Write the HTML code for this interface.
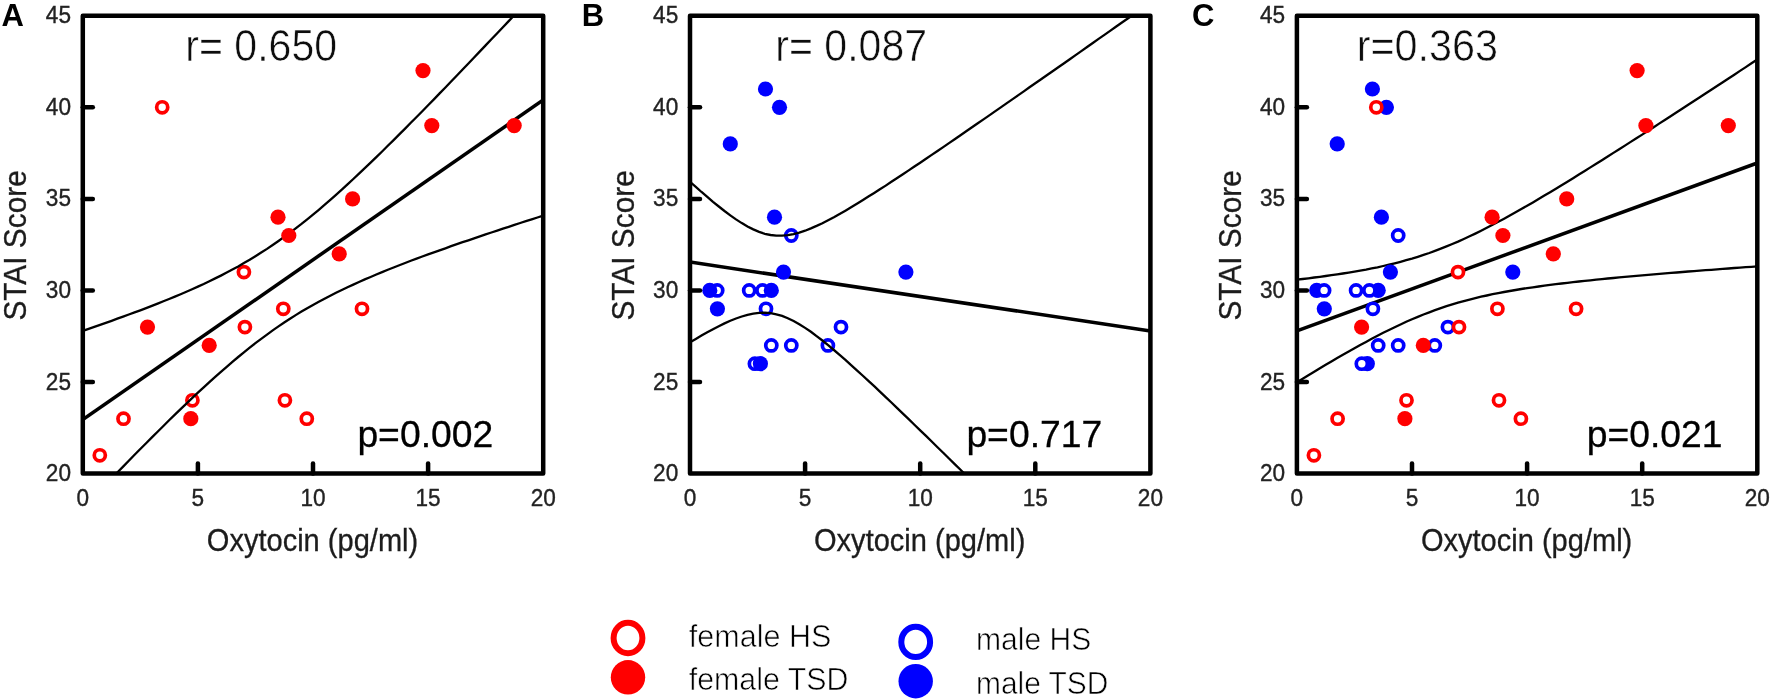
<!DOCTYPE html>
<html><head><meta charset="utf-8"><title>STAI vs Oxytocin</title>
<style>
html,body{margin:0;padding:0;background:#fff;}
svg{display:block}
text{font-family:"Liberation Sans",Arial,sans-serif;fill:#1c1c1c}
.tk{font-size:22.6px;fill:#222;stroke:#222;stroke-width:0.35px}
.ax{font-size:30.6px;stroke:#1c1c1c;stroke-width:0.3px}
.pl{font-size:31px;font-weight:bold;fill:#000}
.rl{font-size:44.8px;fill:#111;stroke:#fff;stroke-width:0.6px}
.plb{font-size:37px;fill:#000;stroke:#000;stroke-width:0.3px}
.lg{font-size:30.6px;fill:#000;stroke:#fff;stroke-width:0.6px}
</style></head><body>
<svg width="1772" height="700" viewBox="0 0 1772 700">
<defs><filter id="soft" x="0" y="0" width="1772" height="700" filterUnits="userSpaceOnUse"><feGaussianBlur stdDeviation="0.55"/></filter></defs>
<rect width="1772" height="700" fill="#fff"/>
<g filter="url(#soft)">
<rect width="1772" height="700" fill="#fff"/>
<clipPath id="cp0"><rect x="82.8" y="15.7" width="460.4" height="457.90000000000003"/></clipPath>
<circle cx="99.8" cy="455.3" r="5.55" fill="#fff" stroke="#ff0000" stroke-width="3.7"/>
<circle cx="123.5" cy="418.7" r="5.55" fill="#fff" stroke="#ff0000" stroke-width="3.7"/>
<circle cx="162.2" cy="107.3" r="5.55" fill="#fff" stroke="#ff0000" stroke-width="3.7"/>
<circle cx="192.4" cy="400.3" r="5.55" fill="#fff" stroke="#ff0000" stroke-width="3.7"/>
<circle cx="243.9" cy="272.1" r="5.55" fill="#fff" stroke="#ff0000" stroke-width="3.7"/>
<circle cx="244.9" cy="327.1" r="5.55" fill="#fff" stroke="#ff0000" stroke-width="3.7"/>
<circle cx="283.3" cy="308.8" r="5.55" fill="#fff" stroke="#ff0000" stroke-width="3.7"/>
<circle cx="284.9" cy="400.3" r="5.55" fill="#fff" stroke="#ff0000" stroke-width="3.7"/>
<circle cx="306.8" cy="418.7" r="5.55" fill="#fff" stroke="#ff0000" stroke-width="3.7"/>
<circle cx="362.0" cy="308.8" r="5.55" fill="#fff" stroke="#ff0000" stroke-width="3.7"/>
<g clip-path="url(#cp0)">
<path d="M82.8,330.8 L88.6,328.8 L94.3,326.8 L100.1,324.8 L105.8,322.8 L111.6,320.8 L117.3,318.7 L123.1,316.6 L128.8,314.5 L134.6,312.4 L140.3,310.3 L146.1,308.1 L151.9,305.9 L157.6,303.6 L163.4,301.3 L169.1,299.0 L174.9,296.6 L180.6,294.2 L186.4,291.7 L192.1,289.2 L197.9,286.6 L203.7,284.0 L209.4,281.2 L215.2,278.4 L220.9,275.6 L226.7,272.6 L232.4,269.5 L238.2,266.4 L243.9,263.1 L249.7,259.7 L255.4,256.2 L261.2,252.6 L267.0,248.9 L272.7,245.0 L278.5,241.0 L284.2,236.9 L290.0,232.7 L295.7,228.3 L301.5,223.9 L307.2,219.3 L313.0,214.6 L318.8,209.8 L324.5,204.9 L330.3,199.9 L336.0,194.8 L341.8,189.6 L347.5,184.3 L353.3,179.0 L359.0,173.6 L364.8,168.2 L370.6,162.7 L376.3,157.1 L382.1,151.5 L387.8,145.8 L393.6,140.1 L399.3,134.4 L405.1,128.6 L410.8,122.8 L416.6,117.0 L422.3,111.2 L428.1,105.3 L433.9,99.4 L439.6,93.4 L445.4,87.5 L451.1,81.5 L456.9,75.5 L462.6,69.5 L468.4,63.5 L474.1,57.5 L479.9,51.4 L485.6,45.4 L491.4,39.3 L497.2,33.2 L502.9,27.2 L508.7,21.1 L514.4,14.9 L520.2,8.8 L525.9,2.7 L531.7,-3.4 L537.4,-9.6 L543.2,-15.7" fill="none" stroke="#000" stroke-width="2.3"/>
<path d="M82.8,508.3 L88.6,502.3 L94.3,496.3 L100.1,490.3 L105.8,484.4 L111.6,478.4 L117.3,472.5 L123.1,466.6 L128.8,460.7 L134.6,454.8 L140.3,449.0 L146.1,443.2 L151.9,437.4 L157.6,431.7 L163.4,426.0 L169.1,420.3 L174.9,414.7 L180.6,409.1 L186.4,403.6 L192.1,398.1 L197.9,392.7 L203.7,387.4 L209.4,382.1 L215.2,376.9 L220.9,371.8 L226.7,366.8 L232.4,361.9 L238.2,357.0 L243.9,352.3 L249.7,347.7 L255.4,343.2 L261.2,338.8 L267.0,334.6 L272.7,330.4 L278.5,326.4 L284.2,322.5 L290.0,318.8 L295.7,315.1 L301.5,311.6 L307.2,308.2 L313.0,304.9 L318.8,301.8 L324.5,298.7 L330.3,295.7 L336.0,292.8 L341.8,290.0 L347.5,287.2 L353.3,284.6 L359.0,282.0 L364.8,279.4 L370.6,277.0 L376.3,274.5 L382.1,272.1 L387.8,269.8 L393.6,267.5 L399.3,265.3 L405.1,263.0 L410.8,260.8 L416.6,258.7 L422.3,256.5 L428.1,254.4 L433.9,252.4 L439.6,250.3 L445.4,248.3 L451.1,246.2 L456.9,244.2 L462.6,242.2 L468.4,240.3 L474.1,238.3 L479.9,236.4 L485.6,234.4 L491.4,232.5 L497.2,230.6 L502.9,228.7 L508.7,226.8 L514.4,224.9 L520.2,223.0 L525.9,221.2 L531.7,219.3 L537.4,217.5 L543.2,215.6" fill="none" stroke="#000" stroke-width="2.3"/>
<line x1="82.8" y1="419.6" x2="543.2" y2="100.0" stroke="#000" stroke-width="3.5"/>
</g>
<circle cx="147.5" cy="327.1" r="7.6" fill="#ff0000"/>
<circle cx="190.8" cy="418.7" r="7.6" fill="#ff0000"/>
<circle cx="209.2" cy="345.4" r="7.6" fill="#ff0000"/>
<circle cx="278.0" cy="217.2" r="7.6" fill="#ff0000"/>
<circle cx="288.8" cy="235.5" r="7.6" fill="#ff0000"/>
<circle cx="339.2" cy="253.8" r="7.6" fill="#ff0000"/>
<circle cx="352.6" cy="198.9" r="7.6" fill="#ff0000"/>
<circle cx="423.0" cy="70.6" r="7.6" fill="#ff0000"/>
<circle cx="431.8" cy="125.6" r="7.6" fill="#ff0000"/>
<circle cx="514.2" cy="125.6" r="7.6" fill="#ff0000"/>
<rect x="82.8" y="15.7" width="460.4" height="457.9" fill="none" stroke="#000" stroke-width="4.5" stroke-linejoin="round"/>
<line x1="82.8" y1="382.0" x2="92.8" y2="382.0" stroke="#000" stroke-width="4.5" stroke-linecap="round"/>
<line x1="82.8" y1="290.4" x2="92.8" y2="290.4" stroke="#000" stroke-width="4.5" stroke-linecap="round"/>
<line x1="82.8" y1="198.9" x2="92.8" y2="198.9" stroke="#000" stroke-width="4.5" stroke-linecap="round"/>
<line x1="82.8" y1="107.3" x2="92.8" y2="107.3" stroke="#000" stroke-width="4.5" stroke-linecap="round"/>
<line x1="197.9" y1="473.6" x2="197.9" y2="463.6" stroke="#000" stroke-width="4.5" stroke-linecap="round"/>
<line x1="313.0" y1="473.6" x2="313.0" y2="463.6" stroke="#000" stroke-width="4.5" stroke-linecap="round"/>
<line x1="428.1" y1="473.6" x2="428.1" y2="463.6" stroke="#000" stroke-width="4.5" stroke-linecap="round"/>
<text transform="translate(71.0,481.1) scale(1,1.03)" text-anchor="end" class="tk">20</text>
<text transform="translate(71.0,389.5) scale(1,1.03)" text-anchor="end" class="tk">25</text>
<text transform="translate(71.0,297.9) scale(1,1.03)" text-anchor="end" class="tk">30</text>
<text transform="translate(71.0,206.4) scale(1,1.03)" text-anchor="end" class="tk">35</text>
<text transform="translate(71.0,114.8) scale(1,1.03)" text-anchor="end" class="tk">40</text>
<text transform="translate(71.0,23.2) scale(1,1.03)" text-anchor="end" class="tk">45</text>
<text transform="translate(82.8,505.6) scale(1,1.03)" text-anchor="middle" class="tk">0</text>
<text transform="translate(197.9,505.6) scale(1,1.03)" text-anchor="middle" class="tk">5</text>
<text transform="translate(313.0,505.6) scale(1,1.03)" text-anchor="middle" class="tk">10</text>
<text transform="translate(428.1,505.6) scale(1,1.03)" text-anchor="middle" class="tk">15</text>
<text transform="translate(543.2,505.6) scale(1,1.03)" text-anchor="middle" class="tk">20</text>
<text x="206.8" y="550.6" textLength="211.4" lengthAdjust="spacingAndGlyphs" class="ax">Oxytocin (pg/ml)</text>
<text transform="translate(26.4,245.4) rotate(-90)" x="-75.2" textLength="150.4" lengthAdjust="spacingAndGlyphs" class="ax">STAI Score</text>
<clipPath id="cp1"><rect x="690.0" y="15.7" width="460.4" height="457.90000000000003"/></clipPath>
<circle cx="717.2" cy="290.4" r="5.55" fill="#fff" stroke="#0000ff" stroke-width="3.7"/>
<circle cx="749.2" cy="290.4" r="5.55" fill="#fff" stroke="#0000ff" stroke-width="3.7"/>
<circle cx="762.5" cy="290.4" r="5.55" fill="#fff" stroke="#0000ff" stroke-width="3.7"/>
<circle cx="766.0" cy="308.8" r="5.55" fill="#fff" stroke="#0000ff" stroke-width="3.7"/>
<circle cx="771.3" cy="345.4" r="5.55" fill="#fff" stroke="#0000ff" stroke-width="3.7"/>
<circle cx="791.3" cy="345.4" r="5.55" fill="#fff" stroke="#0000ff" stroke-width="3.7"/>
<circle cx="791.3" cy="235.5" r="5.55" fill="#fff" stroke="#0000ff" stroke-width="3.7"/>
<circle cx="827.9" cy="345.4" r="5.55" fill="#fff" stroke="#0000ff" stroke-width="3.7"/>
<circle cx="841.0" cy="327.1" r="5.55" fill="#fff" stroke="#0000ff" stroke-width="3.7"/>
<circle cx="754.9" cy="363.7" r="5.55" fill="#fff" stroke="#0000ff" stroke-width="3.7"/>
<g clip-path="url(#cp1)">
<path d="M690.0,181.8 L695.8,186.9 L701.5,192.0 L707.3,196.9 L713.0,201.8 L718.8,206.5 L724.5,211.0 L730.3,215.3 L736.0,219.4 L741.8,223.1 L747.5,226.5 L753.3,229.4 L759.1,231.9 L764.8,233.8 L770.6,235.0 L776.3,235.7 L782.1,235.7 L787.8,235.2 L793.6,234.1 L799.3,232.6 L805.1,230.7 L810.9,228.4 L816.6,225.9 L822.4,223.2 L828.1,220.2 L833.9,217.2 L839.6,214.0 L845.4,210.7 L851.1,207.3 L856.9,203.8 L862.6,200.2 L868.4,196.6 L874.2,193.0 L879.9,189.3 L885.7,185.6 L891.4,181.8 L897.2,178.0 L902.9,174.2 L908.7,170.4 L914.4,166.5 L920.2,162.7 L926.0,158.8 L931.7,154.9 L937.5,151.0 L943.2,147.1 L949.0,143.1 L954.7,139.2 L960.5,135.2 L966.2,131.3 L972.0,127.3 L977.8,123.3 L983.5,119.4 L989.3,115.4 L995.0,111.4 L1000.8,107.4 L1006.5,103.4 L1012.3,99.4 L1018.0,95.4 L1023.8,91.4 L1029.5,87.3 L1035.3,83.3 L1041.1,79.3 L1046.8,75.3 L1052.6,71.2 L1058.3,67.2 L1064.1,63.2 L1069.8,59.2 L1075.6,55.1 L1081.3,51.1 L1087.1,47.0 L1092.8,43.0 L1098.6,38.9 L1104.4,34.9 L1110.1,30.9 L1115.9,26.8 L1121.6,22.8 L1127.4,18.7 L1133.1,14.7 L1138.9,10.6 L1144.6,6.5 L1150.4,2.5" fill="none" stroke="#000" stroke-width="2.3"/>
<path d="M690.0,342.3 L695.8,338.9 L701.5,335.6 L707.3,332.3 L713.0,329.2 L718.8,326.2 L724.5,323.4 L730.3,320.8 L736.0,318.5 L741.8,316.5 L747.5,314.8 L753.3,313.6 L759.1,312.9 L764.8,312.7 L770.6,313.2 L776.3,314.3 L782.1,315.9 L787.8,318.2 L793.6,321.0 L799.3,324.2 L805.1,327.9 L810.9,331.8 L816.6,336.1 L822.4,340.5 L828.1,345.2 L833.9,350.0 L839.6,354.9 L845.4,359.9 L851.1,365.1 L856.9,370.3 L862.6,375.5 L868.4,380.8 L874.2,386.2 L879.9,391.6 L885.7,397.1 L891.4,402.5 L897.2,408.1 L902.9,413.6 L908.7,419.1 L914.4,424.7 L920.2,430.3 L926.0,435.9 L931.7,441.5 L937.5,447.2 L943.2,452.8 L949.0,458.5 L954.7,464.1 L960.5,469.8 L966.2,475.5 L972.0,481.2 L977.8,486.9 L983.5,492.6 L989.3,498.3 L995.0,504.0 L1000.8,509.7 L1006.5,515.4 L1012.3,521.1 L1018.0,526.9 L1023.8,532.6 L1029.5,538.3 L1035.3,544.1 L1041.1,549.8 L1046.8,555.6 L1052.6,561.3 L1058.3,567.1 L1064.1,572.8 L1069.8,578.6 L1075.6,584.3 L1081.3,590.1 L1087.1,595.9 L1092.8,601.6 L1098.6,607.4 L1104.4,613.2 L1110.1,618.9 L1115.9,624.7 L1121.6,630.5 L1127.4,636.2 L1133.1,642.0 L1138.9,647.8 L1144.6,653.6 L1150.4,659.4" fill="none" stroke="#000" stroke-width="2.3"/>
<line x1="690.0" y1="262.1" x2="1150.4" y2="330.9" stroke="#000" stroke-width="3.5"/>
</g>
<circle cx="709.8" cy="290.4" r="7.6" fill="#0000ff"/>
<circle cx="717.4" cy="308.8" r="7.6" fill="#0000ff"/>
<circle cx="730.3" cy="143.9" r="7.6" fill="#0000ff"/>
<circle cx="765.5" cy="89.0" r="7.6" fill="#0000ff"/>
<circle cx="779.5" cy="107.3" r="7.6" fill="#0000ff"/>
<circle cx="774.5" cy="217.2" r="7.6" fill="#0000ff"/>
<circle cx="783.5" cy="272.1" r="7.6" fill="#0000ff"/>
<circle cx="771.3" cy="290.4" r="7.6" fill="#0000ff"/>
<circle cx="905.9" cy="272.1" r="7.6" fill="#0000ff"/>
<circle cx="760.4" cy="363.7" r="7.6" fill="#0000ff"/>
<rect x="690.0" y="15.7" width="460.4" height="457.9" fill="none" stroke="#000" stroke-width="4.5" stroke-linejoin="round"/>
<line x1="690.0" y1="382.0" x2="700.0" y2="382.0" stroke="#000" stroke-width="4.5" stroke-linecap="round"/>
<line x1="690.0" y1="290.4" x2="700.0" y2="290.4" stroke="#000" stroke-width="4.5" stroke-linecap="round"/>
<line x1="690.0" y1="198.9" x2="700.0" y2="198.9" stroke="#000" stroke-width="4.5" stroke-linecap="round"/>
<line x1="690.0" y1="107.3" x2="700.0" y2="107.3" stroke="#000" stroke-width="4.5" stroke-linecap="round"/>
<line x1="805.1" y1="473.6" x2="805.1" y2="463.6" stroke="#000" stroke-width="4.5" stroke-linecap="round"/>
<line x1="920.2" y1="473.6" x2="920.2" y2="463.6" stroke="#000" stroke-width="4.5" stroke-linecap="round"/>
<line x1="1035.3" y1="473.6" x2="1035.3" y2="463.6" stroke="#000" stroke-width="4.5" stroke-linecap="round"/>
<text transform="translate(678.2,481.1) scale(1,1.03)" text-anchor="end" class="tk">20</text>
<text transform="translate(678.2,389.5) scale(1,1.03)" text-anchor="end" class="tk">25</text>
<text transform="translate(678.2,297.9) scale(1,1.03)" text-anchor="end" class="tk">30</text>
<text transform="translate(678.2,206.4) scale(1,1.03)" text-anchor="end" class="tk">35</text>
<text transform="translate(678.2,114.8) scale(1,1.03)" text-anchor="end" class="tk">40</text>
<text transform="translate(678.2,23.2) scale(1,1.03)" text-anchor="end" class="tk">45</text>
<text transform="translate(690.0,505.6) scale(1,1.03)" text-anchor="middle" class="tk">0</text>
<text transform="translate(805.1,505.6) scale(1,1.03)" text-anchor="middle" class="tk">5</text>
<text transform="translate(920.2,505.6) scale(1,1.03)" text-anchor="middle" class="tk">10</text>
<text transform="translate(1035.3,505.6) scale(1,1.03)" text-anchor="middle" class="tk">15</text>
<text transform="translate(1150.4,505.6) scale(1,1.03)" text-anchor="middle" class="tk">20</text>
<text x="814.0" y="550.6" textLength="211.4" lengthAdjust="spacingAndGlyphs" class="ax">Oxytocin (pg/ml)</text>
<text transform="translate(633.6,245.4) rotate(-90)" x="-75.2" textLength="150.4" lengthAdjust="spacingAndGlyphs" class="ax">STAI Score</text>
<clipPath id="cp2"><rect x="1296.9" y="15.7" width="460.4" height="457.90000000000003"/></clipPath>
<g clip-path="url(#cp2)">
<path d="M1296.9,279.6 L1302.7,279.0 L1308.4,278.3 L1314.2,277.5 L1319.9,276.8 L1325.7,276.0 L1331.4,275.2 L1337.2,274.4 L1342.9,273.5 L1348.7,272.6 L1354.5,271.6 L1360.2,270.6 L1366.0,269.6 L1371.7,268.4 L1377.5,267.3 L1383.2,266.0 L1389.0,264.7 L1394.7,263.3 L1400.5,261.8 L1406.2,260.2 L1412.0,258.6 L1417.8,256.8 L1423.5,254.9 L1429.3,253.0 L1435.0,250.9 L1440.8,248.7 L1446.5,246.4 L1452.3,244.0 L1458.0,241.6 L1463.8,239.0 L1469.6,236.3 L1475.3,233.6 L1481.1,230.7 L1486.8,227.8 L1492.6,224.8 L1498.3,221.8 L1504.1,218.7 L1509.8,215.5 L1515.6,212.3 L1521.3,209.0 L1527.1,205.7 L1532.9,202.4 L1538.6,199.0 L1544.4,195.6 L1550.1,192.2 L1555.9,188.7 L1561.6,185.2 L1567.4,181.7 L1573.1,178.2 L1578.9,174.6 L1584.7,171.0 L1590.4,167.4 L1596.2,163.8 L1601.9,160.2 L1607.7,156.6 L1613.4,152.9 L1619.2,149.3 L1624.9,145.6 L1630.7,141.9 L1636.4,138.3 L1642.2,134.6 L1648.0,130.9 L1653.7,127.2 L1659.5,123.4 L1665.2,119.7 L1671.0,116.0 L1676.7,112.3 L1682.5,108.5 L1688.2,104.8 L1694.0,101.0 L1699.8,97.3 L1705.5,93.5 L1711.3,89.8 L1717.0,86.0 L1722.8,82.2 L1728.5,78.5 L1734.3,74.7 L1740.0,70.9 L1745.8,67.1 L1751.5,63.3 L1757.3,59.5" fill="none" stroke="#000" stroke-width="2.3"/>
<path d="M1296.9,382.2 L1302.7,378.7 L1308.4,375.2 L1314.2,371.7 L1319.9,368.2 L1325.7,364.8 L1331.4,361.4 L1337.2,358.1 L1342.9,354.7 L1348.7,351.5 L1354.5,348.2 L1360.2,345.0 L1366.0,341.9 L1371.7,338.8 L1377.5,335.8 L1383.2,332.8 L1389.0,330.0 L1394.7,327.2 L1400.5,324.5 L1406.2,321.8 L1412.0,319.3 L1417.8,316.9 L1423.5,314.5 L1429.3,312.3 L1435.0,310.2 L1440.8,308.2 L1446.5,306.2 L1452.3,304.4 L1458.0,302.7 L1463.8,301.1 L1469.6,299.6 L1475.3,298.1 L1481.1,296.7 L1486.8,295.5 L1492.6,294.2 L1498.3,293.1 L1504.1,292.0 L1509.8,291.0 L1515.6,290.0 L1521.3,289.0 L1527.1,288.1 L1532.9,287.3 L1538.6,286.5 L1544.4,285.7 L1550.1,284.9 L1555.9,284.2 L1561.6,283.5 L1567.4,282.8 L1573.1,282.1 L1578.9,281.5 L1584.7,280.9 L1590.4,280.3 L1596.2,279.7 L1601.9,279.1 L1607.7,278.5 L1613.4,278.0 L1619.2,277.4 L1624.9,276.9 L1630.7,276.4 L1636.4,275.8 L1642.2,275.3 L1648.0,274.8 L1653.7,274.3 L1659.5,273.9 L1665.2,273.4 L1671.0,272.9 L1676.7,272.5 L1682.5,272.0 L1688.2,271.5 L1694.0,271.1 L1699.8,270.6 L1705.5,270.2 L1711.3,269.8 L1717.0,269.3 L1722.8,268.9 L1728.5,268.5 L1734.3,268.0 L1740.0,267.6 L1745.8,267.2 L1751.5,266.8 L1757.3,266.4" fill="none" stroke="#000" stroke-width="2.3"/>
<line x1="1296.9" y1="330.9" x2="1757.3" y2="163.0" stroke="#000" stroke-width="3.5"/>
</g>
<circle cx="1316.7" cy="290.4" r="7.6" fill="#0000ff"/>
<circle cx="1324.3" cy="308.8" r="7.6" fill="#0000ff"/>
<circle cx="1337.2" cy="143.9" r="7.6" fill="#0000ff"/>
<circle cx="1372.4" cy="89.0" r="7.6" fill="#0000ff"/>
<circle cx="1386.4" cy="107.3" r="7.6" fill="#0000ff"/>
<circle cx="1381.4" cy="217.2" r="7.6" fill="#0000ff"/>
<circle cx="1390.4" cy="272.1" r="7.6" fill="#0000ff"/>
<circle cx="1378.2" cy="290.4" r="7.6" fill="#0000ff"/>
<circle cx="1512.8" cy="272.1" r="7.6" fill="#0000ff"/>
<circle cx="1367.3" cy="363.7" r="7.6" fill="#0000ff"/>
<circle cx="1324.1" cy="290.4" r="5.55" fill="#fff" stroke="#0000ff" stroke-width="3.7"/>
<circle cx="1356.1" cy="290.4" r="5.55" fill="#fff" stroke="#0000ff" stroke-width="3.7"/>
<circle cx="1369.4" cy="290.4" r="5.55" fill="#fff" stroke="#0000ff" stroke-width="3.7"/>
<circle cx="1372.9" cy="308.8" r="5.55" fill="#fff" stroke="#0000ff" stroke-width="3.7"/>
<circle cx="1378.2" cy="345.4" r="5.55" fill="#fff" stroke="#0000ff" stroke-width="3.7"/>
<circle cx="1398.2" cy="345.4" r="5.55" fill="#fff" stroke="#0000ff" stroke-width="3.7"/>
<circle cx="1398.2" cy="235.5" r="5.55" fill="#fff" stroke="#0000ff" stroke-width="3.7"/>
<circle cx="1434.8" cy="345.4" r="5.55" fill="#fff" stroke="#0000ff" stroke-width="3.7"/>
<circle cx="1447.9" cy="327.1" r="5.55" fill="#fff" stroke="#0000ff" stroke-width="3.7"/>
<circle cx="1361.8" cy="363.7" r="5.55" fill="#fff" stroke="#0000ff" stroke-width="3.7"/>
<circle cx="1361.6" cy="327.1" r="7.6" fill="#ff0000"/>
<circle cx="1404.9" cy="418.7" r="7.6" fill="#ff0000"/>
<circle cx="1423.3" cy="345.4" r="7.6" fill="#ff0000"/>
<circle cx="1492.1" cy="217.2" r="7.6" fill="#ff0000"/>
<circle cx="1502.9" cy="235.5" r="7.6" fill="#ff0000"/>
<circle cx="1553.3" cy="253.8" r="7.6" fill="#ff0000"/>
<circle cx="1566.7" cy="198.9" r="7.6" fill="#ff0000"/>
<circle cx="1637.1" cy="70.6" r="7.6" fill="#ff0000"/>
<circle cx="1645.9" cy="125.6" r="7.6" fill="#ff0000"/>
<circle cx="1728.3" cy="125.6" r="7.6" fill="#ff0000"/>
<circle cx="1313.9" cy="455.3" r="5.55" fill="#fff" stroke="#ff0000" stroke-width="3.7"/>
<circle cx="1337.6" cy="418.7" r="5.55" fill="#fff" stroke="#ff0000" stroke-width="3.7"/>
<circle cx="1376.3" cy="107.3" r="5.55" fill="#fff" stroke="#ff0000" stroke-width="3.7"/>
<circle cx="1406.5" cy="400.3" r="5.55" fill="#fff" stroke="#ff0000" stroke-width="3.7"/>
<circle cx="1458.0" cy="272.1" r="5.55" fill="#fff" stroke="#ff0000" stroke-width="3.7"/>
<circle cx="1459.0" cy="327.1" r="5.55" fill="#fff" stroke="#ff0000" stroke-width="3.7"/>
<circle cx="1497.4" cy="308.8" r="5.55" fill="#fff" stroke="#ff0000" stroke-width="3.7"/>
<circle cx="1499.0" cy="400.3" r="5.55" fill="#fff" stroke="#ff0000" stroke-width="3.7"/>
<circle cx="1520.9" cy="418.7" r="5.55" fill="#fff" stroke="#ff0000" stroke-width="3.7"/>
<circle cx="1576.1" cy="308.8" r="5.55" fill="#fff" stroke="#ff0000" stroke-width="3.7"/>
<rect x="1296.9" y="15.7" width="460.4" height="457.9" fill="none" stroke="#000" stroke-width="4.5" stroke-linejoin="round"/>
<line x1="1296.9" y1="382.0" x2="1306.9" y2="382.0" stroke="#000" stroke-width="4.5" stroke-linecap="round"/>
<line x1="1296.9" y1="290.4" x2="1306.9" y2="290.4" stroke="#000" stroke-width="4.5" stroke-linecap="round"/>
<line x1="1296.9" y1="198.9" x2="1306.9" y2="198.9" stroke="#000" stroke-width="4.5" stroke-linecap="round"/>
<line x1="1296.9" y1="107.3" x2="1306.9" y2="107.3" stroke="#000" stroke-width="4.5" stroke-linecap="round"/>
<line x1="1412.0" y1="473.6" x2="1412.0" y2="463.6" stroke="#000" stroke-width="4.5" stroke-linecap="round"/>
<line x1="1527.1" y1="473.6" x2="1527.1" y2="463.6" stroke="#000" stroke-width="4.5" stroke-linecap="round"/>
<line x1="1642.2" y1="473.6" x2="1642.2" y2="463.6" stroke="#000" stroke-width="4.5" stroke-linecap="round"/>
<text transform="translate(1285.1,481.1) scale(1,1.03)" text-anchor="end" class="tk">20</text>
<text transform="translate(1285.1,389.5) scale(1,1.03)" text-anchor="end" class="tk">25</text>
<text transform="translate(1285.1,297.9) scale(1,1.03)" text-anchor="end" class="tk">30</text>
<text transform="translate(1285.1,206.4) scale(1,1.03)" text-anchor="end" class="tk">35</text>
<text transform="translate(1285.1,114.8) scale(1,1.03)" text-anchor="end" class="tk">40</text>
<text transform="translate(1285.1,23.2) scale(1,1.03)" text-anchor="end" class="tk">45</text>
<text transform="translate(1296.9,505.6) scale(1,1.03)" text-anchor="middle" class="tk">0</text>
<text transform="translate(1412.0,505.6) scale(1,1.03)" text-anchor="middle" class="tk">5</text>
<text transform="translate(1527.1,505.6) scale(1,1.03)" text-anchor="middle" class="tk">10</text>
<text transform="translate(1642.2,505.6) scale(1,1.03)" text-anchor="middle" class="tk">15</text>
<text transform="translate(1757.3,505.6) scale(1,1.03)" text-anchor="middle" class="tk">20</text>
<text x="1420.9" y="550.6" textLength="211.4" lengthAdjust="spacingAndGlyphs" class="ax">Oxytocin (pg/ml)</text>
<text transform="translate(1240.5,245.4) rotate(-90)" x="-75.2" textLength="150.4" lengthAdjust="spacingAndGlyphs" class="ax">STAI Score</text>
<text x="1.5" y="25.8" class="pl">A</text>
<text x="581.7" y="25.8" class="pl">B</text>
<text x="1192.0" y="25.8" class="pl">C</text>
<text x="185.3" y="61.3" textLength="151.8" lengthAdjust="spacingAndGlyphs" class="rl">r= 0.650</text>
<text x="775.3" y="61.3" textLength="151.8" lengthAdjust="spacingAndGlyphs" class="rl">r= 0.087</text>
<text x="1356.7" y="61.3" textLength="141.3" lengthAdjust="spacingAndGlyphs" class="rl">r=0.363</text>
<text x="357.4" y="446.8" textLength="135.8" lengthAdjust="spacingAndGlyphs" class="plb">p=0.002</text>
<text x="966.4" y="446.8" textLength="135.8" lengthAdjust="spacingAndGlyphs" class="plb">p=0.717</text>
<text x="1586.7" y="446.8" textLength="135.8" lengthAdjust="spacingAndGlyphs" class="plb">p=0.021</text>
<ellipse cx="628" cy="638" rx="14.4" ry="15.2" fill="#fff" stroke="#ff0000" stroke-width="6"/>
<ellipse cx="628" cy="677.3" rx="17.2" ry="17.2" fill="#ff0000"/>
<ellipse cx="915.7" cy="641.9" rx="14.4" ry="15.2" fill="#fff" stroke="#0000ff" stroke-width="6"/>
<ellipse cx="915.7" cy="681.2" rx="17.2" ry="17.2" fill="#0000ff"/>
<text x="688.8" y="646.6" textLength="142.6" lengthAdjust="spacingAndGlyphs" class="lg">female HS</text>
<text x="688.8" y="690.3" textLength="159.6" lengthAdjust="spacingAndGlyphs" class="lg">female TSD</text>
<text x="976.0" y="650.4" textLength="115.2" lengthAdjust="spacingAndGlyphs" class="lg">male HS</text>
<text x="976.0" y="693.8" textLength="132.4" lengthAdjust="spacingAndGlyphs" class="lg">male TSD</text>
</g>
</svg>
</body></html>
